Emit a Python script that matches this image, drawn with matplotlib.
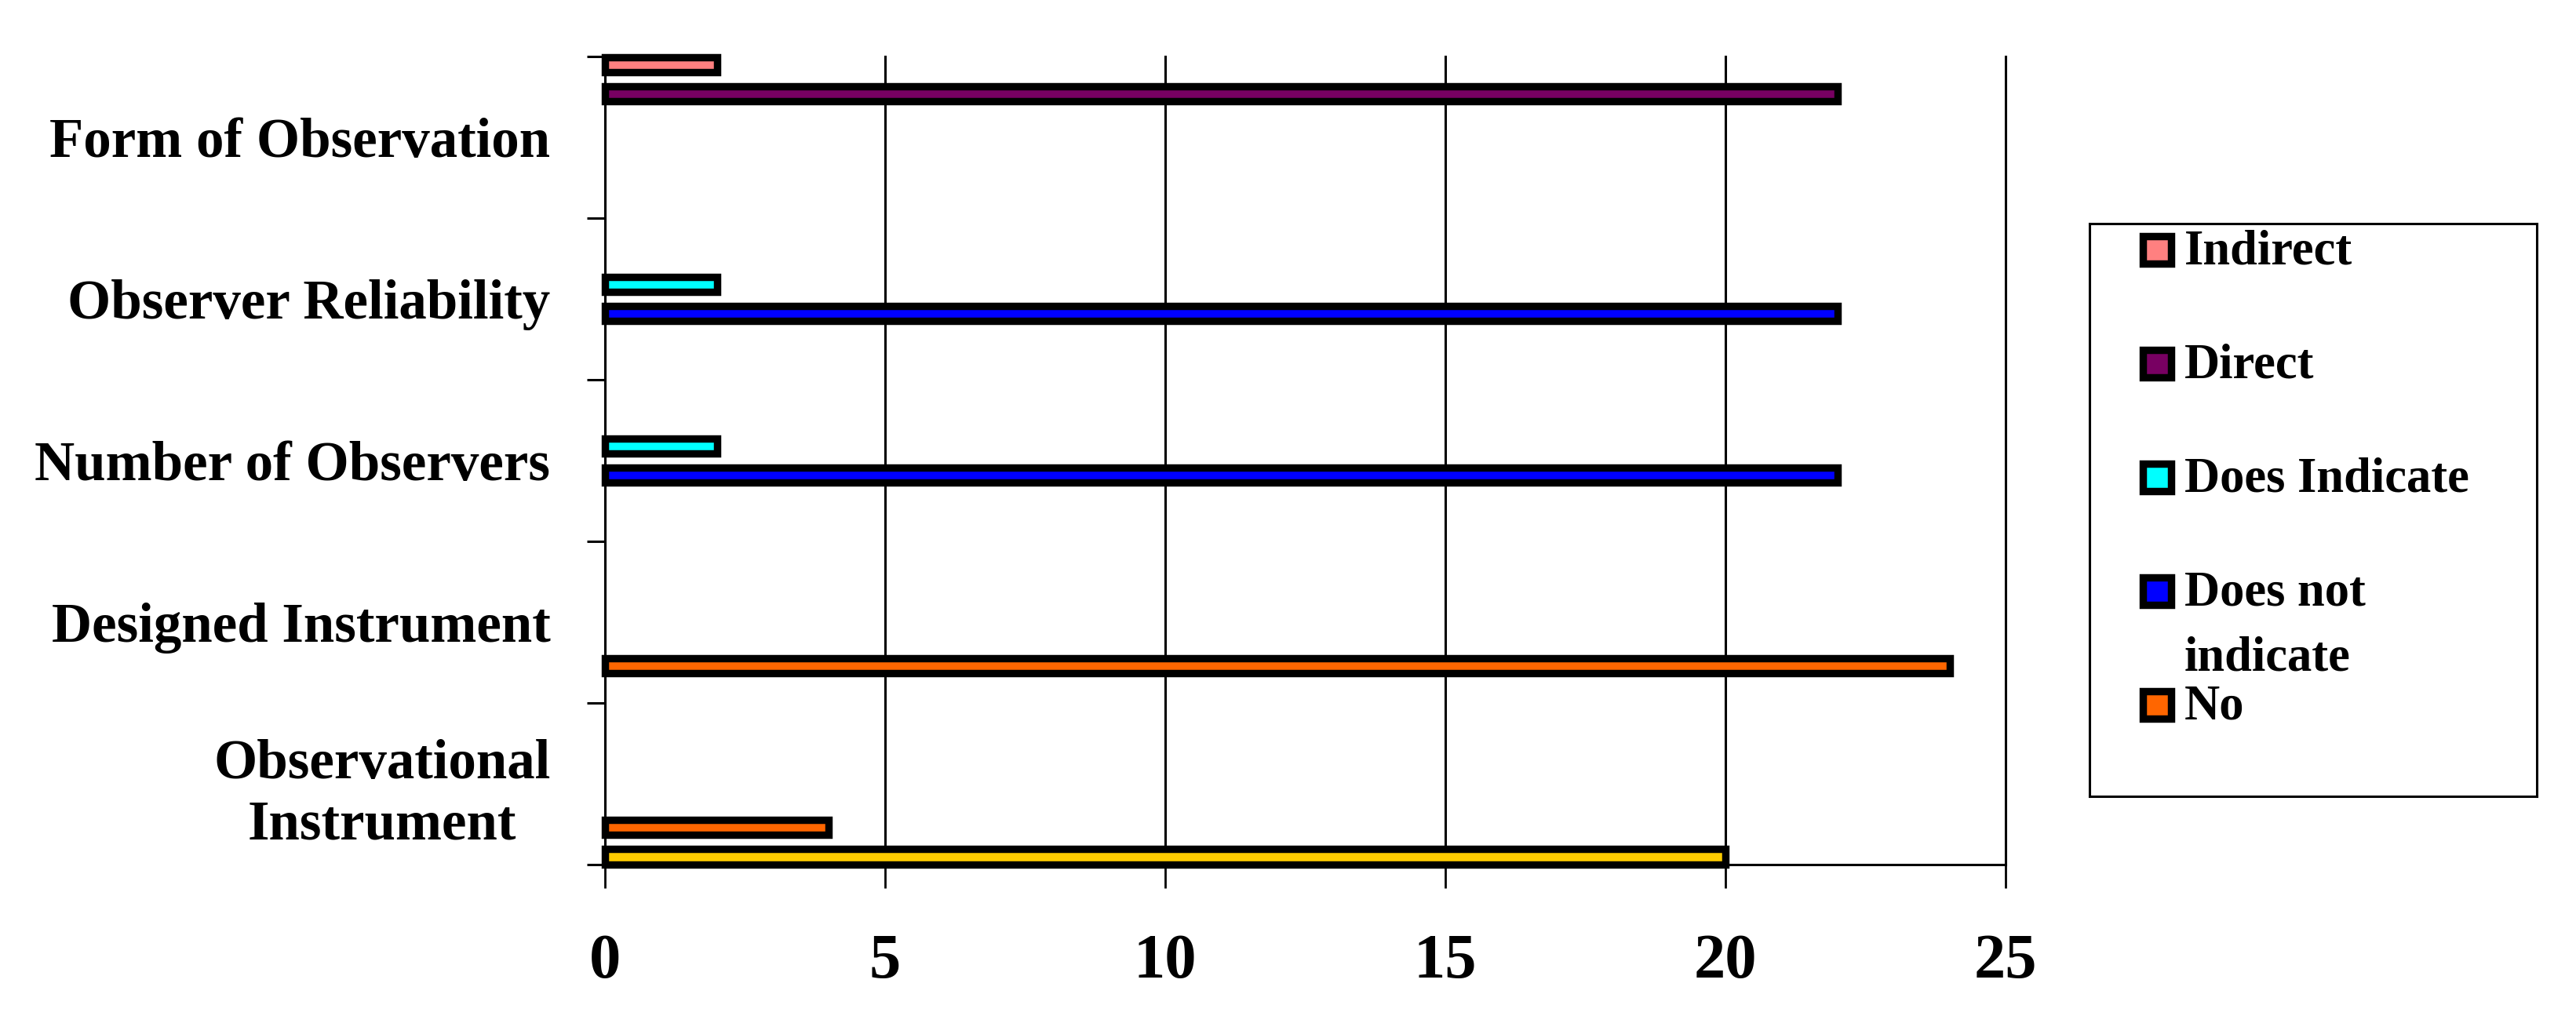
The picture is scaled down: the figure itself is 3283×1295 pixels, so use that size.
import numpy as np
import matplotlib
matplotlib.use("Agg")
import matplotlib.pyplot as plt
from matplotlib.patches import Rectangle

plt.rcParams['font.family'] = ['Liberation Serif', 'DejaVu Serif']
plt.rcParams['font.weight'] = 'bold'

# categories from bottom to top
categories = ['Observational\nInstrument', 'Designed Instrument', 'Number of Observers',
              'Observer Reliability', 'Form of Observation']

# one list per series, same order as categories
yes_vals = [20, 0, 0, 0, 0]
no_vals = [4, 24, 0, 0, 0]
not_indicate_vals = [0, 0, 22, 22, 0]
indicate_vals = [0, 0, 2, 2, 0]
direct_vals = [0, 0, 0, 0, 22]
indirect_vals = [0, 0, 0, 0, 2]

series_names = ['Yes', 'No', 'Does not\nindicate', 'Does Indicate', 'Direct', 'Indirect']
series_vals = [yes_vals, no_vals, not_indicate_vals, indicate_vals, direct_vals, indirect_vals]
series_colors = ['#FFCC00', '#FF6600', '#0000FF', '#00FFFF', '#780062', '#FF8080']

x_ticks = [0, 5, 10, 15, 20, 25]

fig = plt.figure(figsize=(32.83, 12.95), dpi=100)
ax = fig.add_axes([0.2348, 0.1490, 0.5438, 0.7954])

# excel style clustered bars: each series keeps its own slot inside the category
first_off = 0.05
step = 0.18
bar_h = 0.095
for k, (vals, color) in enumerate(zip(series_vals, series_colors)):
    vals = np.array(vals, dtype=float)
    idx = np.nonzero(vals)[0]
    ax.barh(idx + first_off + k * step, vals[idx], height=bar_h, color=color,
            edgecolor='black', linewidth=6.8, clip_on=False, zorder=3)

ax.set_xlim(0, 25)
ax.set_ylim(0, len(categories))
ax.set_xticks(x_ticks)
ax.set_xticklabels([str(t) for t in x_ticks])
ax.tick_params(axis='x', length=21.6, width=2.0, pad=42, labelsize=58, color='black')
ax.xaxis.grid(True, color='black', linewidth=2.2)
ax.set_axisbelow(True)
# the last gridline sits on the axes edge, don't let it get cut in half
for gl in ax.get_xgridlines():
    gl.set_clip_on(False)

ax.set_yticks(np.arange(len(categories) + 1))
ax.set_yticks(np.arange(len(categories)) + 0.5, labels=categories, minor=True)
ax.tick_params(axis='y', which='major', length=16.5, width=2.2, direction='out', labelleft=False)
ax.tick_params(axis='y', which='minor', length=0, pad=50, labelsize=51)
for t in ax.get_yticklabels(minor=True):
    t.set_multialignment('center')
    t.set_linespacing(1.25)

for s in ['top', 'right']:
    ax.spines[s].set_visible(False)
for s in ['left', 'bottom']:
    ax.spines[s].set_linewidth(2.2)

# legend box (pixel-like units inside, top-down)
lax = fig.add_axes([0.8111, 0.2162, 0.1736, 0.5637])
lax.set_xlim(0, 570)
lax.set_ylim(730, 0)
lax.set_xticks([])
lax.set_yticks([])
for s in lax.spines.values():
    s.set_linewidth(2.2)

leg_names = series_names[:0:-1]
leg_colors = series_colors[:0:-1]
for i, (name, color) in enumerate(zip(leg_names, leg_colors)):
    yc = 33 + 145 * i
    lax.add_patch(Rectangle((68, yc - 17.5), 36, 35, facecolor=color,
                            edgecolor='black', linewidth=6.8))
    for j, line in enumerate(name.split('\n')):
        lax.text(121, yc + 18 + 83 * j, line, fontsize=45, va='baseline', ha='left')

fig.savefig('out.png', dpi=100)
